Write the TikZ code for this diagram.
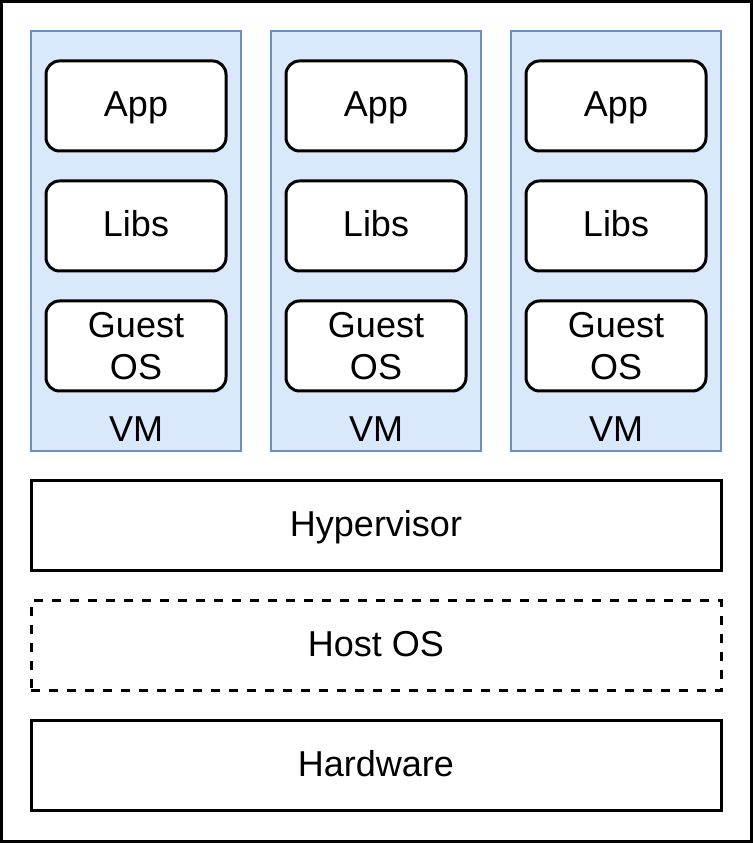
\documentclass[tikz,border=0pt]{standalone}
\usepackage{fontspec}
\setmainfont{Liberation Sans}
\usepackage{tikz}
\usetikzlibrary{shapes}
\definecolor{vmfill}{HTML}{DAE8FC}
\definecolor{vmline}{HTML}{6C8EBF}

\begin{document}
\begin{tikzpicture}
      \tikzstyle{every node}=[font=\fontsize{36bp}{41.5bp}\selectfont, inner sep=0pt, align=center]
      \tikzstyle{vmbox}=[draw=vmline, fill=vmfill, line width=2bp, minimum width=210bp, minimum height=420bp]
      \tikzstyle{oneline}=[text height=25.8bp, text depth=4bp]
      \tikzstyle{partbox}=[draw, fill=white, line width=3bp, rounded corners=13.5bp, minimum width=180bp, minimum height=90bp]
      \tikzstyle{layerbox}=[draw, fill=white, line width=3bp, minimum width=690bp, minimum height=90bp, oneline]
      \useasboundingbox (0bp,0bp) rectangle (753bp,846bp);
      \draw [line width=3bp] (1.5bp,4.5bp) rectangle (751.5bp,844.5bp);
      %%
  \node (vm1) at (136bp,605bp) [vmbox] {};
  \node (vm2) at (376bp,605bp) [vmbox] {};
  \node (vm3) at (616bp,605bp) [vmbox] {};
  \node (vm1_label) at (136bp,404.5bp) [anchor=base] {VM};
  \node (vm2_label) at (376bp,404.5bp) [anchor=base] {VM};
  \node (vm3_label) at (616bp,404.5bp) [anchor=base] {VM};
  \node (app1) at (136bp,740bp) [partbox, oneline] {App};
  \node (app2) at (376bp,740bp) [partbox, oneline] {App};
  \node (app3) at (616bp,740bp) [partbox, oneline] {App};
  \node (libs1) at (136bp,620bp) [partbox, oneline] {Libs};
  \node (libs2) at (376bp,620bp) [partbox, oneline] {Libs};
  \node (libs3) at (616bp,620bp) [partbox, oneline] {Libs};
  \node (guest1) at (136bp,500bp) [partbox] {Guest\\OS};
  \node (guest2) at (376bp,500bp) [partbox] {Guest\\OS};
  \node (guest3) at (616bp,500bp) [partbox] {Guest\\OS};
  \node (hypervisor) at (376bp,320bp) [layerbox] {Hypervisor};
  \node (host_os) at (376bp,200bp) [layerbox, dash pattern=on 9bp off 9bp] {Host OS};
  \node (hardware) at (376bp,80bp) [layerbox] {Hardware};
%

    \end{tikzpicture}
\end{document}
